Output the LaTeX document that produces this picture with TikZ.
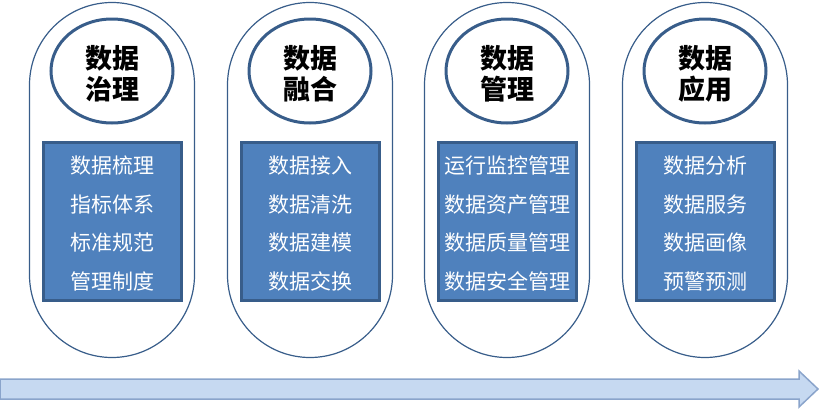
\documentclass[tikz,border=0pt]{standalone}
\usepackage{fontspec}
\setmainfont{Noto Sans CJK SC}
\usetikzlibrary{shapes.geometric}
\definecolor{frameblue}{HTML}{385D8A}
\definecolor{boxblue}{HTML}{4F81BD}
\definecolor{flowfill}{HTML}{C6D9F1}
\definecolor{flowline}{HTML}{8AA4CB}
\tikzset{
stadium/.style={draw=frameblue,line width=1.2pt,rounded corners=82.5pt,minimum width=165pt,minimum height=355pt,inner sep=0pt},
titlering/.style={ellipse,draw=frameblue,line width=3pt,minimum width=122pt,minimum height=104pt,inner sep=0pt},
titletext/.style={align=center,inner sep=0pt,font=\fontsize{27}{31}\selectfont\bfseries},
itembox/.style={draw=frameblue,fill=boxblue,line width=3pt,minimum width=138pt,minimum height=158pt,inner sep=0pt},
itemtext/.style={align=center,inner sep=0pt,text=white,font=\fontsize{21}{38.5}\selectfont}
}
\begin{document}
\begin{tikzpicture}[x=1pt,y=-1pt]
\useasboundingbox (0,0) rectangle (819,410);

%%%Four stages: outline, title ring and item box
\foreach \n/\x/\t/\i/\ii/\iii/\iv in {1/112/治理/数据梳理/指标体系/标准规范/管理制度,2/310/融合/数据接入/数据清洗/数据建模/数据交换,3/507/管理/运行监控管理/数据资产管理/数据质量管理/数据安全管理,4/705/应用/数据分析/数据服务/数据画像/预警预测}{
\node[stadium] (col\n) at (\x,180) {};
%Title ring and its text
\node[titlering] (ring\n) at (\x,71) {};
\node[titletext] (title\n) at ([yshift=-3pt]ring\n.center) {数据\\\t};
%Item box and its four lines
\node[itembox] (list\n) at (\x,221.5) {};
\node[itemtext] (items\n) at ([yshift=-2pt]list\n.center) {\i\\\ii\\\iii\\\iv};
}

%%%Arrow along the bottom
\filldraw[fill=flowfill,draw=flowline,line width=1.5pt,line join=miter] (0,379) -- (799,379) -- (799,371) -- (818,389) -- (799,407) -- (799,399) -- (0,399) -- cycle;

\end{tikzpicture}
\end{document}
